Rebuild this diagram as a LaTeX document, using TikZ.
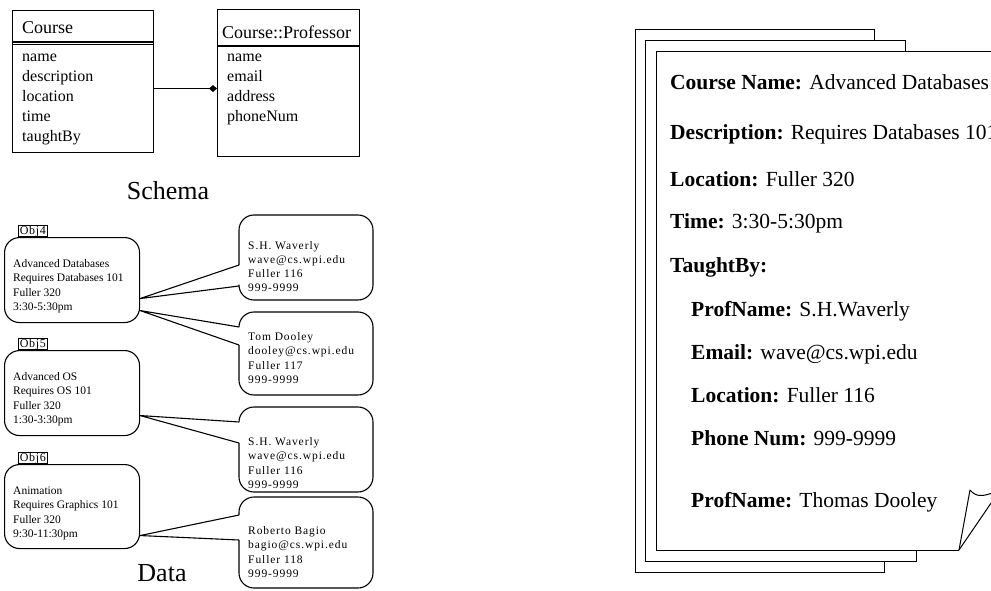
\documentclass[tikz,border=0pt]{standalone}
\usepackage{fontspec}
\setmainfont{Liberation Serif}
\newfontfamily\balloonfont[LetterSpace=8]{Liberation Serif}
\newfontfamily\tagfont[LetterSpace=6]{Liberation Serif}
\usetikzlibrary{arrows.meta}
\begin{document}
\begin{tikzpicture}[x=1pt,y=-1pt,
  edge/.style={line width=1.1pt, line join=round},
  umlbox/.style={draw, line width=1.1pt, inner sep=0pt, anchor=north west},
  umltxt/.style={anchor=base west, inner sep=0pt, font=\fontsize{16}{18}\selectfont},
  umlhead/.style={anchor=base west, inner sep=0pt, font=\fontsize{18}{20}\selectfont},
  caption/.style={inner sep=0pt, font=\fontsize{26}{30}\selectfont},
  objbox/.style={draw, line width=1.1pt, rounded corners=15pt, inner sep=0pt, anchor=north west, minimum width=135pt},
  objtag/.style={draw, line width=0.8pt, inner sep=0pt, anchor=south west, minimum width=29pt, minimum height=10pt, font=\tagfont\fontsize{12}{12}\selectfont},
  smalltxt/.style={anchor=base west, inner sep=0pt, font=\fontsize{11.5}{13}\selectfont},
  balltxt/.style={anchor=base west, inner sep=0pt, font=\balloonfont\fontsize{11.5}{13}\selectfont},
  pagetxt/.style={anchor=base west, inner sep=0pt, font=\fontsize{21.5}{24}\selectfont},
  balloon/.style={line width=1.1pt, rounded corners=15pt, line join=round},
  sheet/.style={line width=1pt},
]
\useasboundingbox (0,0) rectangle (991,591);
\clip (0,0) rectangle (991,591);

% ---------------- Schema ----------------
\node[umlbox, minimum width=141pt, minimum height=142pt] (course) at (12,10) {};
\draw[edge] (course.west |- 0,42) -- (course.east |- 0,42);
\draw[edge] (course.west |- 0,44.5) -- (course.east |- 0,44.5);
\node[umlhead] (coursehead) at (22,34) {Course};
\foreach \t [count=\i from 0] in {name, description, location, time, taughtBy}
  \node[umltxt] (cattr\i) at (22, 62+\i*19.8) {\t};

\node[umlbox, minimum width=142pt, minimum height=147pt] (prof) at (217,9) {};
\draw[edge] (prof.west |- 0,46) -- (prof.east |- 0,46);
\node[umlhead] (profhead) at (222,39) {Course::Professor};
\foreach \t [count=\i from 0] in {name, email, address, phoneNum}
  \node[umltxt] (pattr\i) at (227, 62+\i*19.8) {\t};

\draw[edge, -{Diamond[length=8pt,width=7pt]}] ([yshift=-7pt]course.east) -- ([yshift=-7pt]course.east -| prof.west);

\node[caption] (schema) at (168,191) {Schema};

% ---------------- Data ----------------
\node[objbox, minimum height=85pt] (o4) at (4,237) {};
\node[objtag] (tag4) at (18,237) {Obj4};
\foreach \t [count=\i from 0] in {Advanced Databases, Requires Databases 101, Fuller 320, 3:30-5:30pm}
  \node[smalltxt] (o4t\i) at (13, 267.5+\i*14.3) {\t};

\node[objbox, minimum height=85pt] (o5) at (4,350) {};
\node[objtag] (tag5) at (18,350) {Obj5};
\foreach \t [count=\i from 0] in {Advanced OS, Requires OS 101, Fuller 320, 1:30-3:30pm}
  \node[smalltxt] (o5t\i) at (13, 380.5+\i*14.3) {\t};

\node[objbox, minimum height=84pt] (o6) at (4,464) {};
\node[objtag] (tag6) at (18,464) {Obj6};
\foreach \t [count=\i from 0] in {Animation, Requires Graphics 101, Fuller 320, 9:30-11:30pm}
  \node[smalltxt] (o6t\i) at (13, 494.5+\i*14.3) {\t};

\node[caption] (data) at (162,573) {Data};

% speech balloons with their tails
\coordinate (b1u) at (239,265); \coordinate (b1l) at (239,286);
\draw[balloon] (b1l) -- (239,300) -- (373,300) -- (373,215) -- (239,215) -- (b1u);
\draw[edge] (b1u) -- ([yshift=-18.5pt]o4.east) -- (b1l);
\foreach \t [count=\i from 0] in {S.H. Waverly, wave@cs.wpi.edu, Fuller 116, 999-9999}
  \node[balltxt] (b1t\i) at (248, 249.5+\i*14) {\t};

\coordinate (b2u) at (239,327); \coordinate (b2l) at (239,345);
\draw[balloon] (b2l) -- (239,395) -- (373,395) -- (373,312) -- (239,312) -- (b2u);
\draw[edge] (b2u) -- ([yshift=-30.5pt]o4.east) -- (b2l);
\foreach \t [count=\i from 0] in {Tom Dooley, dooley@cs.wpi.edu, Fuller 117, 999-9999}
  \node[balltxt] (b2t\i) at (248, 340.5+\i*14.3) {\t};

\coordinate (b3u) at (239,422); \coordinate (b3l) at (239,443);
\draw[balloon] (b3l) -- (239,492) -- (373,492) -- (373,407) -- (239,407) -- (b3u);
\draw[edge] (b3u) -- ([yshift=-22.5pt]o5.east) -- (b3l);
\foreach \t [count=\i from 0] in {S.H. Waverly, wave@cs.wpi.edu, Fuller 116, 999-9999}
  \node[balltxt] (b3t\i) at (248, 445.5+\i*14.3) {\t};

\coordinate (b4u) at (239,515); \coordinate (b4l) at (239,540);
\draw[balloon] (b4l) -- (239,588) -- (373,588) -- (373,497) -- (239,497) -- (b4u);
\draw[edge] (b4u) -- ([yshift=-29pt]o6.east) -- (b4l);
\foreach \t [count=\i from 0] in {Roberto Bagio, bagio@cs.wpi.edu, Fuller 118, 999-9999}
  \node[balltxt] (b4t\i) at (248, 534.5+\i*14.3) {\t};

% ---------------- Document stack ----------------
\draw[sheet] (884,561) -- (884,572) -- (635,572) -- (635,30) -- (874,30) -- (874,41);
\draw[sheet] (916,550) -- (916,561) -- (645,561) -- (645,41) -- (905,41) -- (905,52);
\draw[sheet] (1000,52) -- (656,52) -- (656,550) -- (959,550);
% dog-eared corner
\draw[sheet, line join=round] (959,550) -- (970,490) .. controls (976,497) and (982,497) .. (995,492);
\draw[sheet] (959,550) -- (1000,490);

\node[pagetxt] (pg0) at (670,90)  {\textbf{Course Name:} Advanced Databases};
\node[pagetxt] (pg1) at (670,140) {\textbf{Description:} Requires Databases 101};
\node[pagetxt] (pg2) at (670,186) {\textbf{Location:} Fuller 320};
\node[pagetxt] (pg3) at (670,229) {\textbf{Time:} 3:30-5:30pm};
\node[pagetxt] (pg4) at (670,272) {\textbf{TaughtBy:}};
\node[pagetxt] (pg5) at (691,316) {\textbf{ProfName:} S.H.Waverly};
\node[pagetxt] (pg6) at (691,359) {\textbf{Email:} wave@cs.wpi.edu};
\node[pagetxt] (pg7) at (691,402) {\textbf{Location:} Fuller 116};
\node[pagetxt] (pg8) at (691,445) {\textbf{Phone Num:} 999-9999};
\node[pagetxt] (pg9) at (691,507) {\textbf{ProfName:} Thomas Dooley};
\end{tikzpicture}
\end{document}
